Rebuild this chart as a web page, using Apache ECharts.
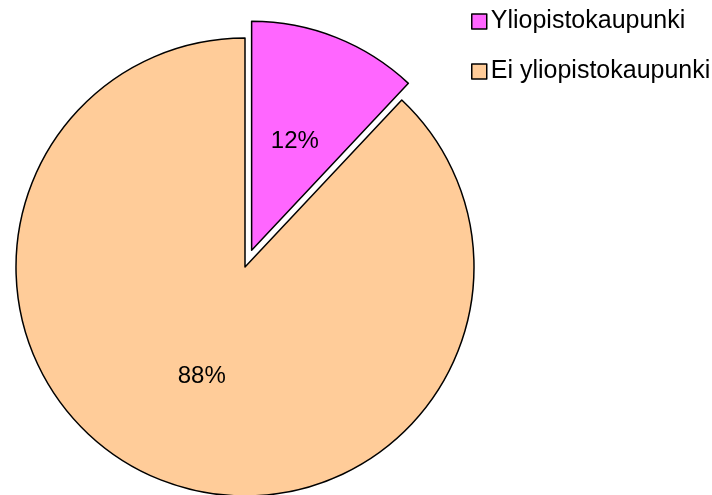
<!DOCTYPE html>
<html>
<head>
<meta charset="utf-8">
<script src="https://cdn.jsdelivr.net/npm/echarts@6/dist/echarts.min.js"></script>
<style>
  html, body { margin: 0; padding: 0; background: #fff; }
  #chart { width: 712px; height: 495px; }
</style>
</head>
<body>
<div id="chart"></div>
<script>
// Data
const categories = ['Yliopistokaupunki', 'Ei yliopistokaupunki'];
const values = [12, 88];
const sliceColors = ['#FF66FF', '#FFCC99'];

const chart = echarts.init(document.getElementById('chart'));

const seriesData = categories.map((name, i) => ({
  name: name,
  value: values[i],
  selected: i === 0, // exploded slice
  itemStyle: { color: sliceColors[i] }
}));

const option = {
  backgroundColor: '#fff',
  animation: false,
  textStyle: { fontFamily: 'Liberation Sans' },
  legend: {
    orient: 'vertical',
    left: 471,
    top: 9,
    padding: 0,
    icon: 'rect',
    itemWidth: 15,
    itemHeight: 15,
    itemGap: 25,
    selectedMode: false,
    itemStyle: { borderColor: '#000', borderWidth: 1.5 },
    textStyle: { fontSize: 25, color: '#000', fontFamily: 'Liberation Sans', padding: [0, 0, 0, -1] },
    data: categories
  },
  series: [{
    type: 'pie',
    center: [245, 267],
    radius: 229,
    startAngle: 90,
    clockwise: true,
    selectedMode: 'single',
    selectedOffset: 18,
    label: {
      show: true,
      position: 'inside',
      formatter: '{d}%',
      fontSize: 24,
      color: '#000',
      fontFamily: 'Liberation Sans'
    },
    labelLine: { show: false },
    itemStyle: { borderColor: '#000', borderWidth: 1.5 },
    emphasis: { disabled: true },
    data: seriesData
  }]
};

chart.setOption(option);
</script>
</body>
</html>
